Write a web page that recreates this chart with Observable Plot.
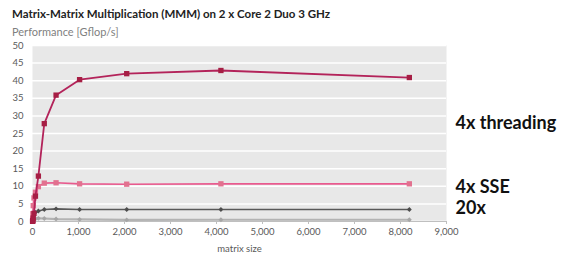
<!DOCTYPE html>
<html>
<head>
<meta charset="utf-8">
<script src="https://cdn.jsdelivr.net/npm/d3@7"></script>
<script src="https://cdn.jsdelivr.net/npm/@observablehq/plot@0.6"></script>
<style>
  html, body { margin: 0; padding: 0; background: #fff; }
  #wrap { width: 567px; height: 255px; position: relative; overflow: hidden; font-family: Lato, sans-serif; }
  #title { position: absolute; left: 12px; top: 7px; font-size: 11.5px; font-weight: bold; color: #222; white-space: nowrap; }
  #subtitle { position: absolute; left: 12px; top: 25px; font-size: 11px; color: #7f7f7f; white-space: nowrap; }
  #chart { position: absolute; left: 0; top: 38px; }
</style>
</head>
<body>
<div id="wrap">
  <div id="title">Matrix-Matrix Multiplication (MMM) on 2 x Core 2 Duo 3 GHz</div>
  <div id="subtitle">Performance [Gflop/s]</div>
  <div id="chart"></div>
</div>
<script>
const sizes     = [2, 4, 8, 16, 32, 64, 128, 256, 512, 1024, 2048, 4096, 8192];
const threading = [0.05, 0.1, 0.3, 1.0, 2.3, 7.2, 12.9, 27.8, 35.9, 40.3, 42.0, 42.9, 40.9];
const sse       = [0.3, 0.8, 2.2, 4.5, 6.7, 8.3, 9.9, 10.9, 11.0, 10.7, 10.6, 10.7, 10.7];
const scalarOpt = [0.1, 0.3, 0.8, 1.5, 2.2, 2.6, 3.0, 3.4, 3.6, 3.4, 3.4, 3.4, 3.4];
const baseline  = [0.1, 0.2, 0.4, 0.6, 0.7, 0.8, 0.9, 0.85, 0.7, 0.6, 0.45, 0.5, 0.5];
const xTicks = [0, 1000, 2000, 3000, 4000, 5000, 6000, 7000, 8000, 9000];
const yTicks = [0, 5, 10, 15, 20, 25, 30, 35, 40, 45, 50];
const annLabels = ["4x threading", "4x SSE", "20x"];
const annY      = [27.8, 9.7, 3.9];

const series = [
  {name: "baseline", values: baseline, line: "#b3b3b3", dot: "#a6a6a6", symbol: "diamond2", r: 2.2, w: 2.2},
  {name: "scalar", values: scalarOpt, line: "#595959", dot: "#4d4d4d", symbol: "diamond2", r: 2.2, w: 1.6},
  {name: "sse", values: sse, line: "#e85a8e", dot: "#e2718f", symbol: "square", r: 3.0, w: 1.6},
  {name: "threading", values: threading, line: "#b3235a", dot: "#a61e44", symbol: "square", r: 3.0, w: 1.8}
];

const marks = [
  Plot.frame({fill: "#e8e8e8", stroke: null}),
  Plot.gridY(yTicks, {stroke: "#ffffff", strokeOpacity: 1, strokeWidth: 1.5}),
  Plot.ruleY([0], {stroke: "#bfbfbf", strokeWidth: 1}),
  Plot.axisY(yTicks, {tickSize: 0, tickPadding: 9, fontSize: 9.5, fill: "#595959", label: null}),
  Plot.axisX(xTicks, {tickSize: 3, stroke: "#bfbfbf", tickPadding: 4, fontSize: 9.5, fill: "#595959", tickFormat: d3.format(","), label: "matrix size", labelAnchor: "center", labelArrow: "none", labelOffset: 30})
];
for (const s of series) {
  const data = sizes.map((x, i) => ({x, y: s.values[i]}));
  marks.push(Plot.line(data, {x: "x", y: "y", stroke: s.line, strokeWidth: s.w}));
  marks.push(Plot.dot(data, {x: "x", y: "y", symbol: s.symbol, r: s.r, fill: s.dot, stroke: null}));
}
const ann = annLabels.map((t, i) => ({t, y: annY[i]}));
marks.push(Plot.text(ann, {x: () => 9000, y: "y", text: "t", textAnchor: "start", dx: 9, fontSize: 18, fontWeight: "bold", fill: "#111", lineAnchor: "middle"}));

const chart = Plot.plot({
  width: 567,
  height: 217,
  marginTop: 7,
  marginBottom: 34,
  marginLeft: 32,
  marginRight: 121,
  style: {fontFamily: "Lato, sans-serif", background: "transparent", overflow: "visible"},
  x: {domain: [0, 9000]},
  y: {domain: [0, 50]},
  marks
});
document.getElementById("chart").appendChild(chart);
</script>
</body>
</html>
